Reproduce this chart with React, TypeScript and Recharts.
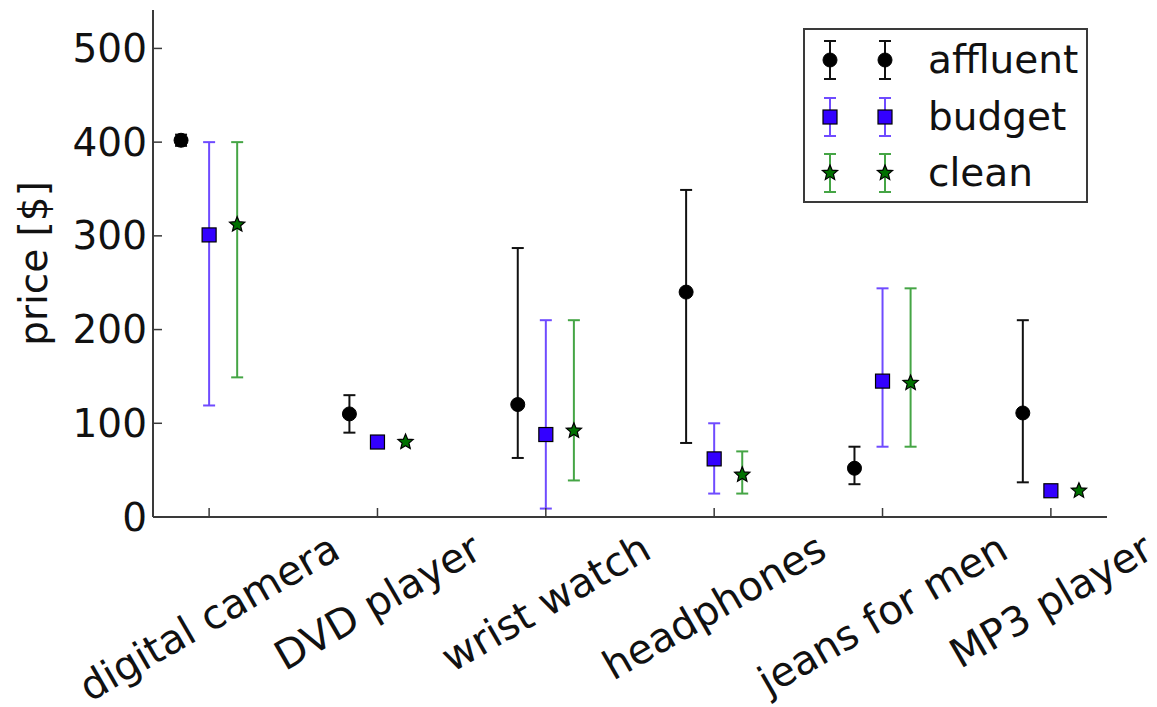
import { ComposedChart, Scatter, ErrorBar, XAxis, YAxis } from 'recharts'

const categories = ['digital camera', 'DVD player', 'wrist watch', 'headphones', 'jeans for men', 'MP3 player']

const affluentPrice = [402, 110, 120, 240, 52, 111]
const affluentLow = [396, 90, 63, 79, 35, 37]
const affluentHigh = [408, 130, 287, 349, 75, 210]

const budgetPrice = [301, 80, 88, 62, 145, 28]
const budgetLow = [119, null, 9, 25, 75, null]
const budgetHigh = [400, null, 210, 100, 244, null]

const cleanPrice = [312, 80, 92, 45, 143, 28]
const cleanLow = [149, null, 39, 25, 75, null]
const cleanHigh = [400, null, 210, 70, 244, null]

const yTicks = [0, 100, 200, 300, 400, 500]
const xTicks = [0, 1, 2, 3, 4, 5]

const FONT = 'DejaVu Sans, Verdana, sans-serif'
const FS = 39
const XFS = 40.5
const PLOT_TOP = 10
const PLOT_BOTTOM = 517
const TICK_LEN = 9

const FRAME = '#3a3a3a'

type Pt = { x: number; y: number; err: [number, number] | null }

function buildSeries(
  price: number[],
  low: (number | null)[],
  high: (number | null)[],
  shift: number,
): Pt[] {
  return price.map((v, i) => {
    const lo = low[i]
    const hi = high[i]
    return {
      x: i + shift,
      y: v,
      err: lo == null || hi == null ? null : [v - lo, hi - v],
    }
  })
}

const affluentData = buildSeries(affluentPrice, affluentLow, affluentHigh, -1 / 6)
const budgetData = buildSeries(budgetPrice, budgetLow, budgetHigh, 0)
const cleanData = buildSeries(cleanPrice, cleanLow, cleanHigh, 1 / 6)

let ctx: CanvasRenderingContext2D | null = null
function textWidth(s: string, font: string) {
  if (!ctx) ctx = document.createElement('canvas').getContext('2d')
  if (!ctx) return s.length * XFS * 0.55
  ctx.font = font
  return ctx.measureText(s).width
}

function starPoints(cx: number, cy: number, R: number) {
  const r = R * 0.45
  const pts: string[] = []
  for (let k = 0; k < 10; k++) {
    const rad = k % 2 === 0 ? R : r
    const a = -Math.PI / 2 + (k * Math.PI) / 5
    pts.push(`${cx + rad * Math.cos(a)},${cy + rad * Math.sin(a)}`)
  }
  return pts.join(' ')
}

const CircleMark = (p: any) => <circle cx={p.cx} cy={p.cy} r={7} fill="#000" stroke="#000" />
const SquareMark = (p: any) => (
  <rect x={p.cx - 7} y={p.cy - 7} width={14} height={14} fill="#3300ff" stroke="#000" strokeWidth={1.2} />
)
const StarMark = (p: any) => (
  <polygon points={starPoints(p.cx, p.cy, 8)} fill="#007000" stroke="#000" strokeWidth={1.2} />
)

const LeftTick = (p: any) => (
  <g>
    <line x1={p.x} y1={p.y} x2={p.x + TICK_LEN} y2={p.y} stroke={FRAME} strokeWidth={1.5} />
    <text x={p.x - 6} y={p.y} textAnchor="end" dominantBaseline="central" fontSize={FS} fontFamily={FONT} fill="#111">
      {p.payload.value}
    </text>
  </g>
)

const RightTick = (p: any) => (
  <line x1={p.x} y1={p.y} x2={p.x - TICK_LEN} y2={p.y} stroke={FRAME} strokeWidth={1.5} />
)

const TopTick = (p: any) => (
  <line x1={p.x} y1={PLOT_TOP} x2={p.x} y2={PLOT_TOP + TICK_LEN} stroke={FRAME} strokeWidth={1.5} />
)

// rotated label, centred on the tick like matplotlib's ha='center'
const BottomTick = (p: any) => {
  const label = categories[p.payload.value] ?? ''
  const w = textWidth(label, `${XFS}px ${FONT}`)
  const h = XFS * 1.17
  const H = w * 0.5 + h * 0.866
  const cy = PLOT_BOTTOM + 7 + H / 2
  return (
    <g>
      <line x1={p.x} y1={PLOT_BOTTOM} x2={p.x} y2={PLOT_BOTTOM - TICK_LEN} stroke={FRAME} strokeWidth={1.5} />
      <text
        x={p.x}
        y={cy}
        textAnchor="middle"
        dominantBaseline="central"
        fontSize={XFS}
        fontFamily={FONT}
        fill="#111"
        transform={`rotate(-30 ${p.x} ${cy})`}
      >
        {label}
      </text>
    </g>
  )
}

const LEGEND_ITEMS = [
  { label: 'affluent', bar: '#111', kind: 'circle' },
  { label: 'budget', bar: '#6f4bff', kind: 'square' },
  { label: 'clean', bar: '#45a545', kind: 'star' },
]

function LegendMark({ cx, kind, bar }: { cx: number; kind: string; bar: string }) {
  const cy = 24
  return (
    <g>
      <line x1={cx} y1={cy - 19} x2={cx} y2={cy + 19} stroke={bar} strokeWidth={2} />
      <line x1={cx - 6} y1={cy - 19} x2={cx + 6} y2={cy - 19} stroke={bar} strokeWidth={2} />
      <line x1={cx - 6} y1={cy + 19} x2={cx + 6} y2={cy + 19} stroke={bar} strokeWidth={2} />
      {kind === 'circle' && <CircleMark cx={cx} cy={cy} />}
      {kind === 'square' && <SquareMark cx={cx} cy={cy} />}
      {kind === 'star' && <StarMark cx={cx} cy={cy} />}
    </g>
  )
}

export default function App() {
  return (
    <div style={{ position: 'absolute', left: 0, top: 0, width: 1157, height: 707, background: '#fff' }}>
      <ComposedChart width={1157} height={707} margin={{ top: PLOT_TOP, right: 50, bottom: 0, left: 0 }}>
        <XAxis
          dataKey="x"
          type="number"
          domain={[-1 / 3, 16 / 3]}
          allowDataOverflow
          ticks={xTicks}
          interval={0}
          height={190}
          tickSize={0}
          tickMargin={0}
          tickLine={false}
          axisLine={{ stroke: FRAME, strokeWidth: 2 }}
          tick={BottomTick}
        />
        <XAxis
          xAxisId="top"
          orientation="top"
          type="number"
          domain={[-1 / 3, 16 / 3]}
          allowDataOverflow
          ticks={xTicks}
          interval={0}
          height={0}
          tickSize={0}
          tickMargin={0}
          tickLine={false}
          axisLine={{ stroke: FRAME, strokeWidth: 2 }}
          tick={TopTick}
        />
        <YAxis
          dataKey="y"
          type="number"
          domain={[0, 541]}
          allowDataOverflow
          ticks={yTicks}
          interval={0}
          width={153}
          tickSize={0}
          tickMargin={0}
          tickLine={false}
          axisLine={{ stroke: FRAME, strokeWidth: 2 }}
          tick={LeftTick}
          label={{
            value: 'price [$]',
            angle: -90,
            position: 'insideLeft',
            offset: 0,
            dx: 33,
            style: { fontSize: FS, fontFamily: FONT, fill: '#111', textAnchor: 'middle' },
          }}
        />
        <YAxis
          yAxisId="right"
          orientation="right"
          type="number"
          domain={[0, 541]}
          allowDataOverflow
          ticks={yTicks}
          interval={0}
          width={0}
          tickSize={0}
          tickMargin={0}
          tickLine={false}
          axisLine={{ stroke: FRAME, strokeWidth: 2 }}
          tick={RightTick}
        />
        <Scatter name="affluent" data={affluentData} shape={CircleMark} isAnimationActive={false}>
          <ErrorBar dataKey="err" direction="y" width={6} stroke="#111" strokeWidth={2} />
        </Scatter>
        <Scatter name="budget" data={budgetData} shape={SquareMark} isAnimationActive={false}>
          <ErrorBar dataKey="err" direction="y" width={6} stroke="#6f4bff" strokeWidth={2} />
        </Scatter>
        <Scatter name="clean" data={cleanData} shape={StarMark} isAnimationActive={false}>
          <ErrorBar dataKey="err" direction="y" width={6} stroke="#45a545" strokeWidth={2} />
        </Scatter>
      </ComposedChart>

      <div
        style={{
          position: 'absolute',
          left: 803,
          top: 28,
          width: 281,
          height: 171,
          border: `2px solid ${FRAME}`,
          background: '#fff',
          fontFamily: FONT,
          fontSize: FS,
          color: '#111',
        }}
      >
        {LEGEND_ITEMS.map((item, i) => (
          <div
            key={item.label}
            style={{ position: 'absolute', left: 0, top: 6 + i * 56.5, height: 48, display: 'flex', alignItems: 'center' }}
          >
            <svg width={120} height={48} style={{ display: 'block' }}>
              <LegendMark cx={25} kind={item.kind} bar={item.bar} />
              <LegendMark cx={80} kind={item.kind} bar={item.bar} />
            </svg>
            <span style={{ marginLeft: 3, lineHeight: '48px' }}>{item.label}</span>
          </div>
        ))}
      </div>
    </div>
  )
}
